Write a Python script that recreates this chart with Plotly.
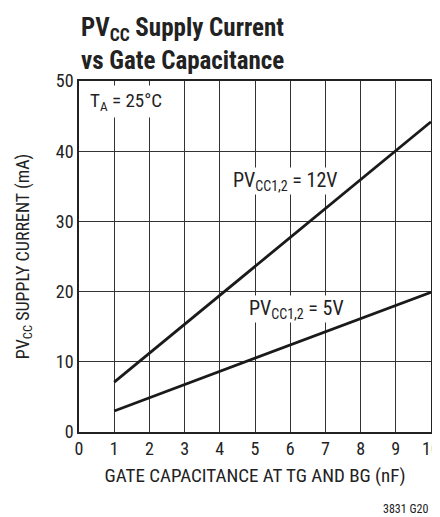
import plotly.graph_objects as go

# data
cap_nf = [1, 10]
i_12v = [7.1, 44.2]
i_5v = [3.0, 19.9]
x_ticks = [0, 1, 2, 3, 4, 5, 6, 7, 8, 9, 10]
y_ticks = [0, 10, 20, 30, 40, 50]

FONT = "Liberation Sans Narrow, Arial Narrow, Roboto Condensed, Liberation Sans, sans-serif"
INK = "#222"

fig = go.Figure()
fig.add_trace(go.Scatter(x=cap_nf, y=i_12v, mode="lines",
                         line=dict(color="#1a1a1a", width=2.8), showlegend=False))
fig.add_trace(go.Scatter(x=cap_nf, y=i_5v, mode="lines",
                         line=dict(color="#1a1a1a", width=2.8), showlegend=False))

# page body has an 8px margin, so the figure is sized/offset to compensate
fig.update_layout(
    width=440, height=509,
    margin=dict(l=71, r=17, t=73, b=85, autoexpand=False),
    paper_bgcolor="white", plot_bgcolor="white",
    font=dict(family=FONT, color=INK, size=16),
    showlegend=False,
)
fig.update_xaxes(range=[0, 10], tickvals=x_ticks, ticks="", showgrid=True,
                 gridcolor="#333", gridwidth=1, zeroline=False,
                 showline=True, linecolor=INK, linewidth=1.5, mirror=True,
                 ticklabeloverflow="allow",
                 tickfont=dict(size=18, family=FONT, color=INK),
                 title=dict(text="GATE CAPACITANCE AT TG AND BG (nF)",
                            font=dict(size=19, family=FONT, color=INK), standoff=10))
fig.update_yaxes(range=[0, 50], tickvals=y_ticks, ticks="", showgrid=True,
                 gridcolor="#333", gridwidth=1, zeroline=False,
                 showline=True, linecolor=INK, linewidth=1.5, mirror=True,
                 tickfont=dict(size=18, family=FONT, color=INK),
                 title=dict(text="PV<sub>CC</sub> SUPPLY CURRENT (mA)",
                            font=dict(size=18, family=FONT, color=INK), standoff=22))

fig.add_annotation(xref="paper", yref="paper", x=0, y=1.0, yshift=70,
                   xanchor="left", yanchor="top", align="left", showarrow=False,
                   text="<b>PV<sub>CC</sub> Supply Current<br>vs Gate Capacitance</b>",
                   font=dict(size=25, family=FONT, color=INK))
fig.add_annotation(x=0.2, y=49.5, xanchor="left", yanchor="top", showarrow=False,
                   text="T<sub>A</sub> = 25°C", bgcolor="white", borderpad=3,
                   font=dict(size=19, family=FONT, color=INK))
fig.add_annotation(x=5.84, y=35.8, xanchor="center", yanchor="middle", showarrow=False,
                   text="PV<sub>CC1,2</sub> = 12V", bgcolor="white", borderpad=0,
                   font=dict(size=20, family=FONT, color=INK))
fig.add_annotation(x=6.17, y=17.5, xanchor="center", yanchor="middle", showarrow=False,
                   text="PV<sub>CC1,2</sub> = 5V", bgcolor="white", borderpad=0,
                   font=dict(size=20, family=FONT, color=INK))
fig.add_annotation(x=10, y=0, yshift=-68, xshift=-1,
                   xanchor="right", yanchor="top", showarrow=False,
                   text="3831 G20", font=dict(size=12, family=FONT, color=INK))

fig.write_html("out.html")
